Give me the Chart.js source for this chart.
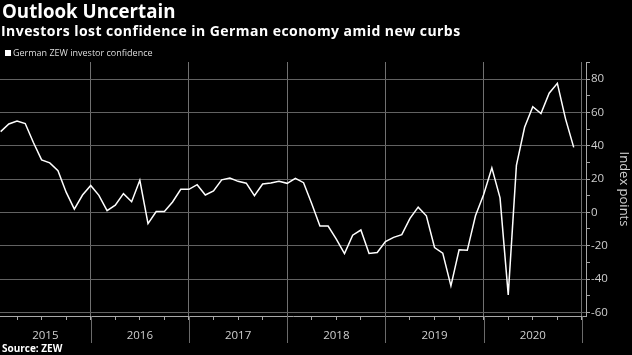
<!DOCTYPE html>
<html>
<head>
<meta charset="utf-8">
<script src="https://cdn.jsdelivr.net/npm/chart.js@4.4.1/dist/chart.umd.min.js"></script>
<style>
  html, body { margin: 0; padding: 0; background: #000; width: 632px; height: 355px; overflow: hidden; font-family: 'Open Sans', sans-serif; }
  #wrap { position: relative; width: 632px; height: 355px; }
  #c { position: absolute; left: 0; top: 0; }
  .t { position: absolute; white-space: nowrap; line-height: 1; }
  #title { left: 2px; top: 2.4px; font-size: 18.7px; font-weight: 700; color: #fff; }
  #sub { left: 1px; top: 23.6px; font-size: 14px; font-weight: 700; color: #fff; letter-spacing: 0.45px; }
  #legsq { position: absolute; left: 5px; top: 50px; width: 6px; height: 6px; background: #fff; }
  #leg { left: 13px; top: 47.7px; font-size: 9px; color: #ddd; }
  #src { left: 2px; top: 343.4px; font-size: 10px; font-weight: 700; color: #fff; }
</style>
</head>
<body>
<div id="wrap">
  <canvas id="c" width="632" height="355"></canvas>
  <div class="t" id="title">Outlook Uncertain</div>
  <div class="t" id="sub">Investors lost confidence in German economy amid new curbs</div>
  <div id="legsq"></div>
  <div class="t" id="leg">German ZEW investor confidence</div>
  <div class="t" id="src">Source: ZEW</div>
</div>
<script>
// ---- Data (monthly ZEW economic sentiment, index points) ----
const years = ['2015', '2016', '2017', '2018', '2019', '2020'];
const zew2015 = [48.4, 53.0, 54.8, 53.3, 41.9, 31.5, 29.7, 25.0, 12.1, 1.9, 10.4, 16.1];
const zew2016 = [10.2, 1.0, 4.3, 11.2, 6.4, 19.2, -6.8, 0.5, 0.5, 6.2, 13.8, 13.8];
const zew2017 = [16.6, 10.4, 12.8, 19.5, 20.6, 18.6, 17.5, 10.0, 17.0, 17.6, 18.7, 17.4];
const zew2018 = [20.4, 17.8, 5.1, -8.2, -8.2, -16.1, -24.7, -13.7, -10.6, -24.7, -24.1, -17.5];
const zew2019 = [-15.0, -13.4, -3.6, 3.1, -2.1, -21.1, -24.5, -44.1, -22.5, -22.8, -2.1, 10.7];
const zew2020 = [26.7, 8.7, -49.5, 28.2, 51.0, 63.4, 59.3, 71.5, 77.4, 56.1, 39.0];
const yTicks = [-60, -50, -40, -30, -20, -10, 0, 10, 20, 30, 40, 50, 60, 70, 80, 90];
const yLabelStep = 20;

// ---- Build ----
const series = [zew2015, zew2016, zew2017, zew2018, zew2019, zew2020];
// x in "months since 1 Jan 2015"; each monthly reading plotted at month end
const points = [];
series.forEach((arr, yi) => arr.forEach((v, mi) => points.push({ x: yi * 12 + mi + 1, y: v })));

const X_MIN = 0.92, X_MAX = 72.5;
const Y_MIN = -62.2, Y_MAX = 90.2;
const boundaries = years.map((_, i) => (i + 1) * 12);
const quarterVals = [];
for (let v = 3; v <= years.length * 12; v += 3) quarterVals.push(v);
const labelPos = years.map((_, i) => (Math.max(X_MIN, i * 12) + (i + 1) * 12) / 2);
const near = (a, b) => Math.abs(a - b) < 1e-6;
const xTickVals = Array.from(new Set([...quarterVals, ...labelPos])).sort((a, b) => a - b);
const isBoundary = v => boundaries.some(b => near(b, v));
const isQuarter = v => quarterVals.some(q => near(q, v));
const labelFor = v => { const i = labelPos.findIndex(p => near(p, v)); return i >= 0 ? years[i] : ''; };
const isYLabel = v => Math.abs(v % yLabelStep) < 1e-6 && v <= 80;

const GRID = '#626262';
const VGRID = '#707070';
const AXIS = '#a8a8a8';
const TXT = '#cfcfcf';

const yearLines = {
  id: 'yearLines',
  afterDraw(chart) {
    const { ctx, chartArea, scales } = chart;
    ctx.save();
    ctx.strokeStyle = '#6a6a6a';
    ctx.lineWidth = 1;
    boundaries.forEach(b => {
      const px = Math.round(scales.x.getPixelForValue(b)) + 0.5;
      ctx.beginPath();
      ctx.moveTo(px, chartArea.bottom);
      ctx.lineTo(px, 343);
      ctx.stroke();
    });
    ctx.restore();
  }
};

new Chart(document.getElementById('c'), {
  type: 'line',
  data: {
    datasets: [{
      label: 'German ZEW investor confidence',
      data: points,
      borderColor: '#ffffff',
      borderWidth: 1.5,
      pointRadius: 0,
      tension: 0,
      fill: false
    }]
  },
  options: {
    responsive: false,
    devicePixelRatio: 1,
    animation: false,
    layout: { padding: { top: 62, left: 0, right: 0, bottom: 0 } },
    plugins: { legend: { display: false }, tooltip: { enabled: false }, title: { display: false } },
    scales: {
      x: {
        type: 'linear',
        min: X_MIN,
        max: X_MAX,
        afterBuildTicks: s => { s.ticks = xTickVals.map(v => ({ value: v })); },
        afterFit: s => { s.height = 39; },
        grid: {
          color: ctx => (ctx.tick && isBoundary(ctx.tick.value)) ? VGRID : 'rgba(0,0,0,0)',
          borderDash: [1, 2],
          lineWidth: 1,
          drawTicks: true,
          tickLength: 4,
          tickColor: ctx => (ctx.tick && isQuarter(ctx.tick.value)) ? AXIS : 'rgba(0,0,0,0)',
          tickBorderDash: []
        },
        border: { display: true, color: AXIS, width: 1 },
        ticks: {
          autoSkip: false,
          maxRotation: 0,
          padding: 9,
          color: TXT,
          font: { family: 'Open Sans', size: 11.5 },
          callback: v => labelFor(v)
        }
      },
      y: {
        position: 'right',
        min: Y_MIN,
        max: Y_MAX,
        afterBuildTicks: s => { s.ticks = yTicks.map(v => ({ value: v })); },
        afterFit: s => { s.width = 46; },
        grid: {
          color: ctx => (ctx.tick && isYLabel(ctx.tick.value)) ? GRID : 'rgba(0,0,0,0)',
          borderDash: [1, 2],
          lineWidth: 1,
          tickLength: 4,
          tickColor: AXIS,
          tickBorderDash: []
        },
        border: { display: true, color: AXIS, width: 1 },
        ticks: {
          padding: 1,
          color: TXT,
          font: { family: 'Open Sans', size: 11.5 },
          callback: v => isYLabel(v) ? String(v) : ''
        },
        title: {
          display: true,
          text: 'Index points',
          color: TXT,
          font: { family: 'Open Sans', size: 13 },
          padding: 0
        }
      }
    }
  },
  plugins: [yearLines]
});
</script>
</body>
</html>
